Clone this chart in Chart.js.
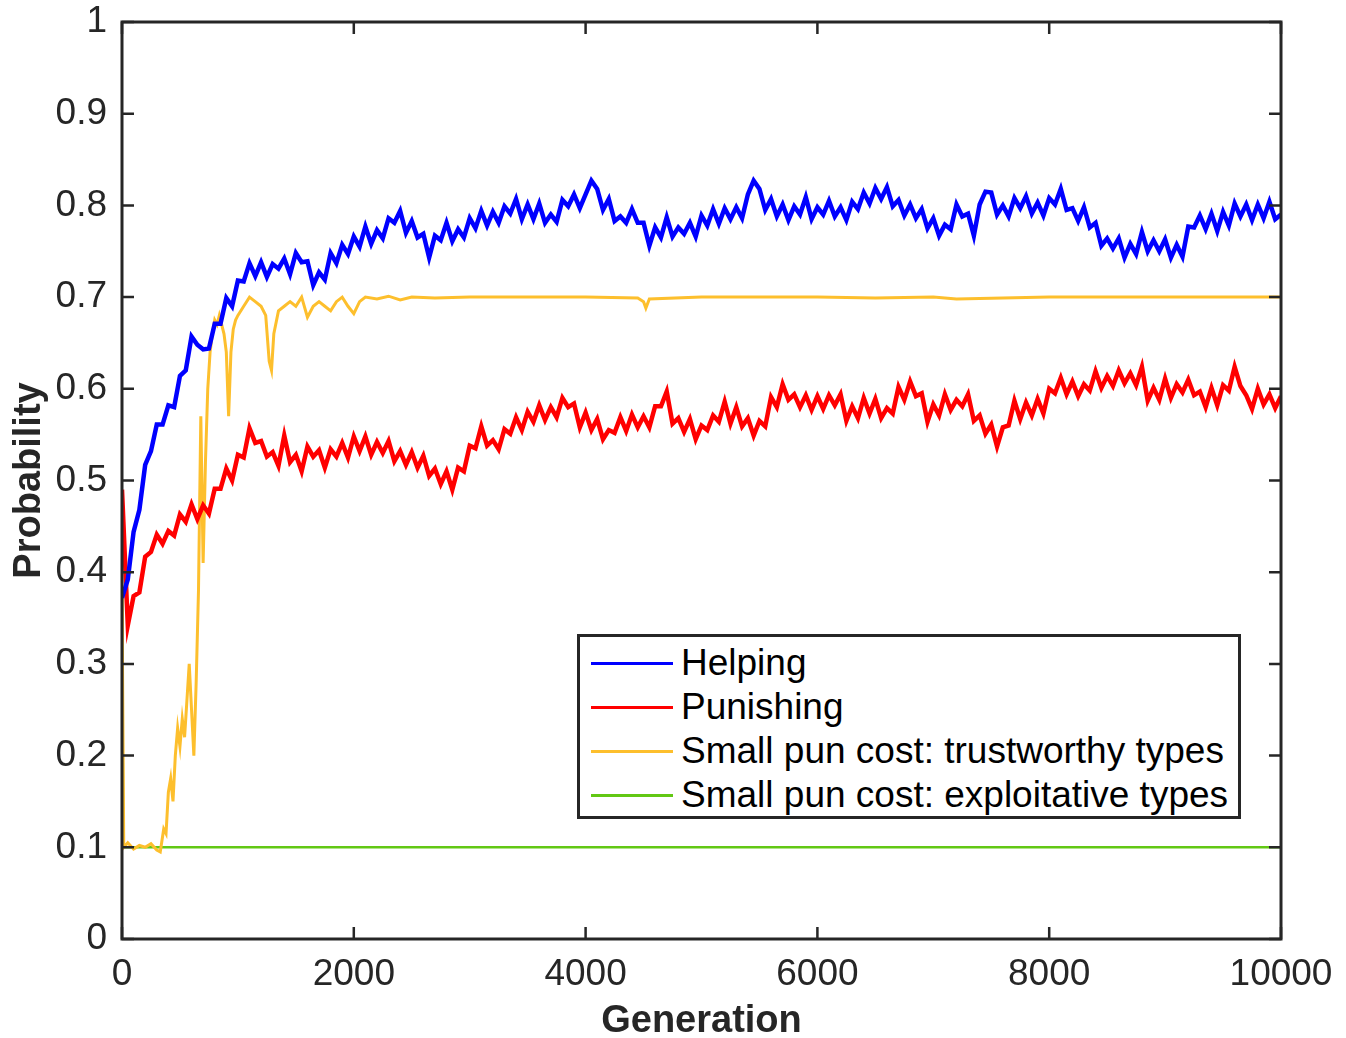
<!DOCTYPE html>
<html>
<head>
<meta charset="utf-8">
<title>Probability vs Generation</title>
<script src="https://cdn.jsdelivr.net/npm/chart.js@4.4.1/dist/chart.umd.min.js"></script>
<style>
  html, body { margin: 0; padding: 0; background: #fff; }
  #wrap { position: relative; width: 1346px; height: 1038px; }
  #legend {
    position: absolute; left: 577px; top: 634px; width: 658px; height: 179px;
    border: 3px solid #262626; background: #fff;
    font-family: "Liberation Sans", Arial, sans-serif; font-size: 37px; color: #000;
  }
  #legend .row { position: absolute; left: 0; height: 44px; line-height: 44px; white-space: nowrap; }
  #legend .swatch { position: absolute; left: 11px; top: 20px; width: 82px; height: 3px; }
  #legend .label { position: absolute; left: 101px; top: -1px; }
</style>
</head>
<body>
<div id="wrap">
  <canvas id="chart" width="1346" height="1038"></canvas>
  <div id="legend"></div>
</div>
<script>
// Series labels and colours
const seriesNames = ['Helping', 'Punishing', 'Small pun cost: trustworthy types', 'Small pun cost: exploitative types'];
const seriesColors = ['#0000ff', '#ff0000', '#fdbf2d', '#62c814'];

// Helping and punishing: one reading every 50 generations (0 .. 10000)
const genStep = 50;
const helping = [
  .372, .392, .444, .468, .517, .532, .561, .561, .582, .580,
  .614, .620, .657, .648, .643, .644, .671, .671, .699, .690,
  .718, .717, .737, .723, .738, .722, .736, .731, .742, .725,
  .748, .738, .739, .713, .727, .719, .748, .737, .757, .747,
  .766, .755, .777, .758, .773, .764, .786, .781, .794, .770,
  .783, .765, .769, .743, .767, .762, .781, .761, .774, .765,
  .786, .775, .794, .778, .793, .781, .799, .791, .807, .785,
  .801, .785, .802, .781, .790, .782, .806, .799, .812, .797,
  .812, .827, .818, .795, .807, .783, .788, .781, .796, .781,
  .781, .756, .776, .765, .787, .766, .776, .769, .781, .766,
  .789, .778, .796, .780, .797, .785, .798, .786, .812, .827,
  .818, .795, .807, .788, .801, .784, .799, .790, .809, .785,
  .798, .790, .805, .788, .798, .784, .804, .796, .814, .802,
  .819, .807, .820, .799, .806, .789, .801, .786, .796, .775,
  .786, .767, .779, .774, .801, .788, .791, .767, .801, .815,
  .814, .790, .800, .788, .808, .797, .810, .791, .803, .789,
  .808, .801, .818, .795, .797, .783, .798, .776, .781, .756,
  .764, .753, .764, .743, .758, .747, .771, .750, .762, .750,
  .763, .743, .757, .744, .777, .776, .789, .774, .791, .772,
  .793, .778, .802, .788, .801, .784, .801, .786, .804, .785,
  .790
];
const punishing = [
  .490, .342, .374, .378, .417, .422, .441, .431, .445, .440,
  .463, .455, .474, .458, .473, .464, .491, .491, .513, .500,
  .528, .525, .557, .541, .543, .526, .531, .516, .549, .520,
  .528, .510, .537, .526, .533, .514, .534, .526, .541, .525,
  .548, .532, .548, .528, .542, .530, .543, .521, .532, .517,
  .531, .514, .527, .505, .513, .496, .510, .490, .514, .510,
  .538, .535, .559, .538, .544, .534, .556, .551, .569, .555,
  .575, .564, .582, .566, .580, .569, .590, .580, .584, .558,
  .574, .555, .567, .545, .555, .552, .569, .554, .572, .558,
  .570, .558, .581, .581, .597, .562, .568, .553, .567, .545,
  .560, .555, .571, .564, .586, .562, .580, .559, .568, .549,
  .565, .559, .591, .580, .605, .588, .594, .580, .593, .577,
  .592, .578, .593, .582, .594, .565, .581, .568, .590, .573,
  .589, .568, .579, .573, .602, .588, .608, .592, .595, .564,
  .583, .571, .594, .577, .588, .581, .594, .565, .571, .551,
  .561, .537, .558, .560, .587, .567, .585, .571, .589, .573,
  .600, .595, .612, .594, .608, .592, .605, .598, .619, .601,
  .614, .603, .620, .606, .617, .604, .624, .587, .601, .588,
  .611, .590, .605, .596, .610, .593, .597, .580, .601, .582,
  .604, .598, .624, .603, .593, .578, .600, .583, .594, .579,
  .592
];

// Trustworthy types: generation / value pairs
const trustGen = [
  0, 15, 50, 100, 150, 200, 250, 300, 330, 360,
  380, 400, 420, 440, 460, 480, 500, 520, 540, 560,
  580, 600, 620, 640, 660, 680, 700, 720, 740, 760,
  780, 800, 820, 840, 860, 880, 900, 920, 940, 960,
  980, 1000, 1050, 1100, 1150, 1200, 1240, 1270, 1290, 1310,
  1350, 1400, 1450, 1500, 1550, 1600, 1650, 1700, 1750, 1800,
  1850, 1900, 1950, 2000, 2050, 2100, 2200, 2300, 2400, 2500,
  2700, 3000, 3500, 4000, 4450, 4500, 4520, 4550, 5000, 6000,
  6500, 7000, 7200, 8000, 9000, 10000
];
const trustworthy = [
  .380, .100, .105, .098, .102, .100, .104, .097, .095, .120,
  .115, .160, .175, .150, .200, .230, .210, .240, .220, .260,
  .300, .250, .200, .280, .380, .570, .410, .520, .600, .640,
  .660, .675, .670, .680, .670, .660, .640, .570, .640, .665,
  .675, .680, .690, .700, .695, .690, .680, .630, .620, .660,
  .685, .690, .695, .690, .700, .678, .690, .695, .690, .685,
  .695, .700, .690, .682, .695, .700, .698, .701, .697, .700,
  .699, .700, .700, .700, .699, .695, .688, .698, .700, .700,
  .699, .700, .698, .700, .700, .700
];

// Exploitative types: drops straight to 0.1 and stays there
const exploitGen = [0, 10, 10000];
const exploitative = [0.38, 0.10, 0.10];

// Axis ticks
const xTicks = [0, 2000, 4000, 6000, 8000, 10000];
const yTicks = [0, 0.1, 0.2, 0.3, 0.4, 0.5, 0.6, 0.7, 0.8, 0.9, 1];

const toPoints = (xs, ys) => ys.map((v, i) => ({ x: xs[i], y: v }));
const stepPoints = ys => ys.map((v, i) => ({ x: i * genStep, y: v }));

const axisColor = '#262626';
const fontFamily = '"Liberation Sans", Arial, sans-serif';

// MATLAB-like box with inward ticks on all four sides
const boxPlugin = {
  id: 'box',
  afterDatasetsDraw(chart) {
    const { ctx, chartArea: a, scales } = chart;
    const len = 12;
    ctx.save();
    ctx.strokeStyle = axisColor;
    ctx.lineWidth = 2.5;
    scales.x.ticks.forEach(t => {
      const px = scales.x.getPixelForValue(t.value);
      ctx.beginPath();
      ctx.moveTo(px, a.bottom); ctx.lineTo(px, a.bottom - len);
      ctx.moveTo(px, a.top); ctx.lineTo(px, a.top + len);
      ctx.stroke();
    });
    scales.y.ticks.forEach(t => {
      const py = scales.y.getPixelForValue(t.value);
      ctx.beginPath();
      ctx.moveTo(a.left, py); ctx.lineTo(a.left + len, py);
      ctx.moveTo(a.right, py); ctx.lineTo(a.right - len, py);
      ctx.stroke();
    });
    ctx.lineWidth = 3;
    ctx.strokeRect(a.left, a.top, a.right - a.left, a.bottom - a.top);
    ctx.restore();
  }
};

new Chart(document.getElementById('chart'), {
  type: 'line',
  data: {
    datasets: [
      { label: seriesNames[0], data: stepPoints(helping), borderColor: seriesColors[0], borderWidth: 4.5 },
      { label: seriesNames[1], data: stepPoints(punishing), borderColor: seriesColors[1], borderWidth: 4.5 },
      { label: seriesNames[2], data: toPoints(trustGen, trustworthy), borderColor: seriesColors[2], borderWidth: 3 },
      { label: seriesNames[3], data: toPoints(exploitGen, exploitative), borderColor: seriesColors[3], borderWidth: 2.5 }
    ]
  },
  options: {
    responsive: false,
    animation: false,
    devicePixelRatio: 1,
    layout: { padding: { top: 22, right: 65, left: 0, bottom: 0 } },
    elements: { point: { radius: 0 }, line: { tension: 0 } },
    plugins: { legend: { display: false }, tooltip: { enabled: false } },
    scales: {
      x: {
        type: 'linear', min: 0, max: 10000,
        afterBuildTicks: s => { s.ticks = xTicks.map(v => ({ value: v })); },
        afterFit: s => { s.height = 99; s.paddingLeft = 0; s.paddingRight = 0; },
        grid: { display: false, drawTicks: false },
        border: { display: false },
        ticks: {
          padding: 14, color: axisColor, maxRotation: 0,
          font: { family: fontFamily, size: 37 },
          callback: v => String(v)
        },
        title: {
          display: true, text: 'Generation', color: axisColor,
          font: { family: fontFamily, size: 38, weight: 'bold', lineHeight: 0.85 },
          padding: { top: 0, bottom: 0 }
        }
      },
      y: {
        type: 'linear', min: 0, max: 1,
        afterBuildTicks: s => { s.ticks = yTicks.map(v => ({ value: v })); },
        afterFit: s => { s.width = 122; s.paddingTop = 0; s.paddingBottom = 0; },
        grid: { display: false, drawTicks: false },
        border: { display: false },
        ticks: {
          padding: 15, color: axisColor,
          font: { family: fontFamily, size: 37 },
          callback: v => String(+v.toFixed(1))
        },
        title: {
          display: true, text: 'Probability', color: axisColor,
          font: { family: fontFamily, size: 38, weight: 'bold', lineHeight: 1 },
          padding: { top: 11, bottom: 0 }
        }
      }
    }
  },
  plugins: [boxPlugin]
});

// Legend box inside the plot, built from the series names and colours
const legend = document.getElementById('legend');
seriesNames.forEach((name, i) => {
  const row = document.createElement('div');
  row.className = 'row';
  row.style.top = (5 + i * 44) + 'px';
  row.innerHTML = '<span class="swatch" style="background:' + seriesColors[i] + '"></span>' +
                  '<span class="label">' + name + '</span>';
  legend.appendChild(row);
});
</script>
</body>
</html>
